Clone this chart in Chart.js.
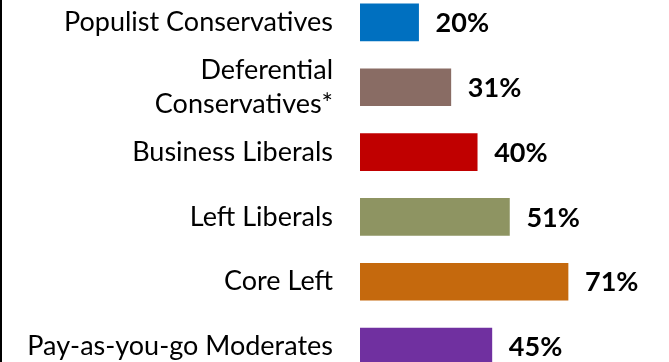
<!DOCTYPE html>
<html>
<head>
<meta charset="utf-8">
<script src="https://cdn.jsdelivr.net/npm/chart.js@4"></script>
<style>
  html, body { margin: 0; padding: 0; background: #fff; }
  #wrap { position: relative; width: 669px; height: 362px; overflow: hidden; }
  #chart { position: absolute; left: 0; top: -10px; }
</style>
</head>
<body>
<div id="wrap">
  <canvas id="chart" width="669" height="389"></canvas>
</div>
<script>
const categories = [
    'Populist Conservatives',
    ['Deferential', 'Conservatives*'],
    'Business Liberals',
    'Left Liberals',
    'Core Left',
    'Pay-as-you-go Moderates'
];
const values = [20, 31, 40, 51, 71, 45];
const barColors = ['#0070C0', '#896C64', '#C00000', '#8E9462', '#C5690D', '#7030A0'];

// draws the bold percentage next to each bar, plus the frame line on the left
const valueLabels = {
    id: 'valueLabels',
    afterDatasetsDraw(chart) {
        const ctx = chart.ctx;
        const meta = chart.getDatasetMeta(0);
        ctx.save();
        ctx.fillStyle = '#000';
        ctx.fillRect(0, 0, 2, chart.height);
        ctx.font = 'bold 27px Lato';
        ctx.textAlign = 'left';
        ctx.textBaseline = 'middle';
        meta.data.forEach((bar, i) => {
            ctx.fillText(values[i] + '%', bar.x + 17, bar.y + 1);
        });
        ctx.restore();
    }
};

const ctx = document.getElementById('chart').getContext('2d');
new Chart(ctx, {
    type: 'bar',
    data: {
        labels: categories,
        datasets: [{
            data: values,
            backgroundColor: barColors,
            barThickness: 37
        }]
    },
    options: {
        indexAxis: 'y',
        responsive: false,
        animation: false,
        layout: { padding: { top: 0, bottom: 0, left: 0, right: 16 } },
        plugins: {
            legend: { display: false },
            tooltip: { enabled: false }
        },
        scales: {
            x: {
                display: false,
                min: 0,
                max: 100
            },
            y: {
                border: { display: false },
                grid: { display: false, drawTicks: false, tickLength: 0 },
                ticks: {
                    color: '#000',
                    padding: 27,
                    autoSkip: false,
                    font: { family: 'Lato', size: 27, lineHeight: '34px' }
                },
                afterFit(axis) {
                    axis.width = 360;
                    axis.paddingTop = 0;
                    axis.paddingBottom = 0;
                }
            }
        }
    },
    plugins: [valueLabels]
});
</script>
</body>
</html>
